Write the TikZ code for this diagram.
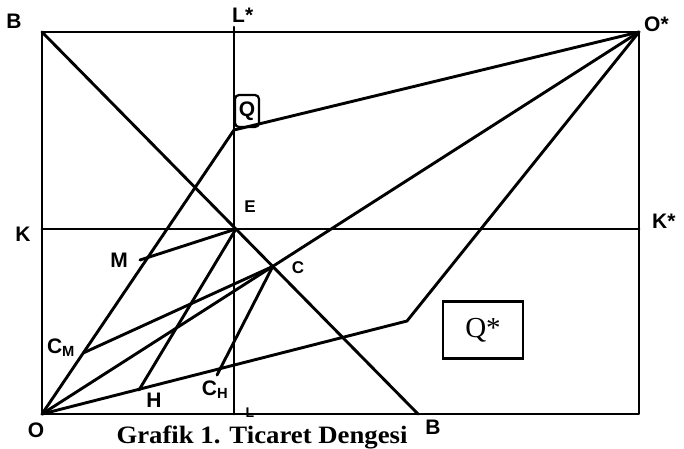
\documentclass[tikz,border=0pt]{standalone}
\usepackage{fontspec}
\setmainfont{Liberation Serif}
\setsansfont{Liberation Sans}
\usetikzlibrary{calc}

\begin{document}
\begin{tikzpicture}[
    x=1pt,y=-1pt,
    every node/.style={font=\sffamily\bfseries\fontsize{21}{21}\selectfont,inner sep=0pt},
    ln/.style={line width=2.9pt,line cap=round,line join=round},
    small/.style={font=\sffamily\bfseries\fontsize{17}{17}\selectfont},
    qbox/.style={draw,line width=2.2pt,rounded corners=4pt,minimum width=24pt,minimum height=32pt},
    sbox/.style={draw,line width=2.4pt,minimum width=80pt,minimum height=57pt,font=\rmfamily\fontsize{29}{29}\selectfont}
]
\useasboundingbox (0,0) rectangle (684,448);
% box corners and axes
\coordinate (O) at (42,414);
\coordinate (Os) at (639,32);
\coordinate (TL) at (42,32);
\coordinate (BR) at (639,414);
\coordinate (K1) at (42,229);
\coordinate (K2) at (639,229);
\coordinate (L1) at (234,27);
\coordinate (L2) at (234,414);
\coordinate (B2) at (418,414);
\coordinate (E) at (intersection of TL--B2 and K1--K2);
\coordinate (C) at (intersection of TL--B2 and O--Os);
\coordinate (Q) at (234,130);
\coordinate (P) at (407,321);
\coordinate (M) at (140,260);
\coordinate (H) at (139,390);
\coordinate (CM) at ($(O)!0.215!(Q)$);
\coordinate (CH) at (217,375);

\draw[ln] (TL) rectangle (BR);
\draw[ln] (K1) -- (K2);
\draw[ln] (L1) -- (L2);
\draw[ln] (TL) -- (B2);
\draw[ln] (O) -- (Os);
\draw[ln] (O) -- (Q) -- (Os);
\draw[ln] (O) -- (P) -- (Os);
\draw[ln] (M) -- (E);
\draw[ln] (H) -- (E);
\draw[ln] (CM) -- (C);
\draw[ln] (CH) -- (C);

% labels
\node (lB1) at (14,21) {B};
\node (lB2) at (433,427) {B};
\node (lO) at (36,430) {O};
\node[anchor=west] (lOs) at (644,24) {O*};
\node (lK) at (23,234) {K};
\node[anchor=west] (lKs) at (652,221) {K*};
\node[anchor=west] (lLs) at (232,15) {L*};
\node[small,font=\sffamily\bfseries\fontsize{14}{14}\selectfont] (lL) at (250,413) {L};
\node[small] (lE) at (250,207) {E};
\node[small] (lC) at (298,268) {C};
\node (lM) at (119,260) {M};
\node (lH) at (154,400) {H};
\node (lCM) at (61,348) {C\textsubscript{M}};
\node (lCH) at (215,390) {C\textsubscript{H}};
\node[qbox] (lQ) at (247,111) {Q};
\node[sbox] (lQs) at (483,330) {Q*};
\node[font=\rmfamily\bfseries\fontsize{25}{26}\selectfont,xscale=1.07] (cap) at (262,437) {Grafik 1. Ticaret Dengesi};
\end{tikzpicture}
\end{document}
